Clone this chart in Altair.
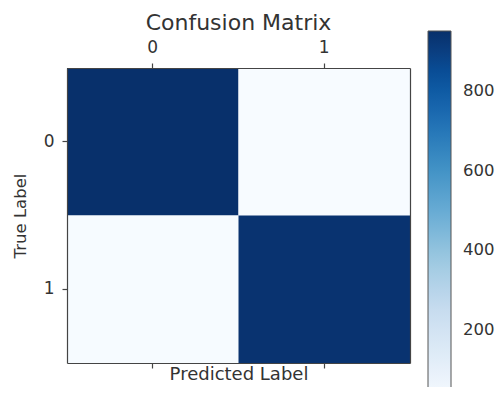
import altair as alt
import pandas as pd

# ---- data ----
true_labels = ["0", "0", "1", "1"]
pred_labels = ["0", "1", "0", "1"]
counts = [951, 24, 27, 940]
tick_labels = ["0", "1"]
colorbar_ticks = [200, 400, 600, 800]
color_min, color_max = 24, 951
blues = ["#f7fbff", "#deebf7", "#c6dbef", "#9ecae1", "#6baed6",
         "#4292c6", "#2171b5", "#08519c", "#08306b"]

df = pd.DataFrame({"true": true_labels, "pred": pred_labels, "count": counts})

FONT = "DejaVu Sans"
TXT = "#333333"
LINE = "#444444"

step = (color_max - color_min) / (len(blues) - 1)
color_domain = [color_min + i * step for i in range(len(blues))]

xs = alt.Scale(domain=tick_labels, paddingInner=0, paddingOuter=0)
ys = alt.Scale(domain=tick_labels, paddingInner=0, paddingOuter=0)

common_axis = dict(domainColor=LINE, domainWidth=1.2, tickColor=LINE, tickWidth=1.2,
                   labelFont=FONT, labelFontSize=17, labelColor=TXT,
                   titleFont=FONT, titleColor=TXT, titleFontWeight="normal",
                   grid=False, zindex=1)

base = alt.Chart(df)

heat = base.mark_rect().encode(
    x=alt.X("pred:O", scale=xs,
            axis=alt.Axis(orient="top", title=None, labelAngle=0, tickSize=5,
                          labelPadding=7, **common_axis)),
    y=alt.Y("true:O", scale=ys,
            axis=alt.Axis(orient="left", title="True Label", titleFontSize=16.5,
                          labelAngle=0, tickSize=5, labelPadding=8, titlePadding=15,
                          **common_axis)),
    color=alt.Color("count:Q",
                    scale=alt.Scale(domain=color_domain, range=blues),
                    legend=alt.Legend(orient="none", legendX=361, legendY=-37,
                                      title=None, direction="vertical",
                                      gradientLength=369, gradientThickness=23,
                                      gradientStrokeColor="#555555",
                                      gradientStrokeWidth=1,
                                      values=colorbar_ticks,
                                      labelFont=FONT, labelFontSize=16.5,
                                      labelColor=TXT, labelOffset=12, padding=0)),
)

frame = base.mark_rect(fillOpacity=0, strokeOpacity=0).encode(
    x=alt.X("pred:O", scale=xs,
            axis=alt.Axis(orient="bottom", title="Predicted Label", titleFontSize=18,
                          labels=False, tickSize=5, titlePadding=-3, **common_axis)),
    y=alt.Y("true:O", scale=ys,
            axis=alt.Axis(orient="right", title=None, labels=False, ticks=False,
                          **common_axis)),
)

chart = (
    alt.layer(heat, frame)
    .resolve_axis(x="independent", y="independent")
    .properties(
        width=343, height=295,
        title=alt.TitleParams("Confusion Matrix", font=FONT, fontSize=22,
                              fontWeight="normal", color=TXT, anchor="middle",
                              offset=0, dy=4),
        autosize=alt.AutoSizeParams(type="none"),
        padding={"left": 59, "top": 60, "right": 85, "bottom": 24},
    )
    .configure_view(strokeWidth=0)
)

chart.save("out.html", embed_options={"renderer": "svg", "actions": False})
